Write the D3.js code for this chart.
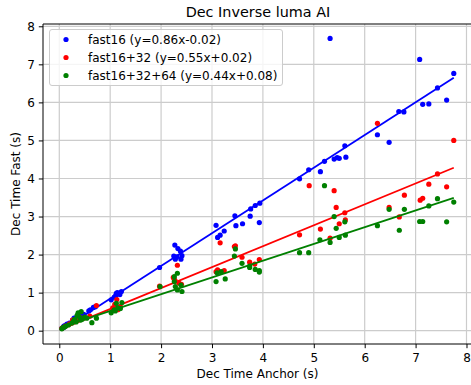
<!DOCTYPE html>
<html>
<head>
<meta charset="utf-8">
<script src="https://cdn.jsdelivr.net/npm/d3@7"></script>
<style>
  html, body { margin: 0; padding: 0; background: #fff; }
  svg { display: block; font-family: "DejaVu Sans", sans-serif; }
</style>
</head>
<body>
<svg id="chart" width="471" height="385"></svg>
<script>
// ---------------- data ----------------
const title = "Dec Inverse luma AI";
const xLabel = "Dec Time Anchor (s)";
const yLabel = "Dec Time Fast (s)";
const xTicks = [0, 1, 2, 3, 4, 5, 6, 7, 8];
const yTicks = [0, 1, 2, 3, 4, 5, 6, 7, 8];

const seriesNames = ["fast16 (y=0.86x-0.02)", "fast16+32 (y=0.55x+0.02)", "fast16+32+64 (y=0.44x+0.08)"];
const seriesColors = ["#0000ff", "#ff0000", "#008000"];
const fitSlopes = [0.86, 0.55, 0.44];
const fitIntercepts = [-0.02, 0.02, 0.08];

const fast16X = [0.05,0.07,0.09,0.10,0.12,0.15,0.20,0.26,0.29,0.33,0.38,0.42,0.45,0.48,0.58,0.61,0.67,0.71,
  1.02,1.08,1.11,1.12,1.14,1.17,1.22,1.19,
  1.97,2.27,2.33,2.25,2.31,2.38,2.41,2.39,2.28,
  3.08,3.11,3.16,3.24,3.45,3.47,3.60,3.75,3.76,3.85,3.94,3.93,
  4.72,4.90,5.13,5.21,5.32,5.40,5.46,5.50,5.63,5.61,6.25,6.48,6.67,6.77,7.08,7.14,7.26,7.43,7.61,7.75];
const fast16Y = [0.06,0.08,0.12,0.10,0.14,0.17,0.20,0.28,0.33,0.34,0.36,0.40,0.43,0.43,0.52,0.55,0.61,0.63,
  0.81,0.88,0.92,0.98,1.00,0.98,1.03,0.95,
  1.66,2.25,2.16,1.96,1.94,2.09,1.97,1.88,1.88,
  2.77,2.45,2.51,2.62,3.02,2.76,2.81,3.01,3.20,3.29,3.35,2.84,
  3.99,4.23,4.18,4.45,7.68,4.51,4.55,4.53,4.56,4.86,5.15,4.95,5.76,5.75,7.13,5.95,5.96,6.38,6.06,6.76];

const fast1632X = [0.05,0.08,0.12,0.20,0.26,0.30,0.35,0.40,0.45,0.60,0.73,
  1.05,1.09,1.13,1.15,1.20,
  1.97,2.24,2.26,2.28,2.32,2.35,2.40,
  3.08,3.11,3.16,3.24,3.44,3.46,3.59,3.74,3.84,3.93,
  4.72,4.91,5.13,5.32,5.40,5.44,5.50,5.61,5.62,6.25,6.48,6.68,6.78,7.09,7.14,7.26,7.43,7.61,7.75];
const fast1632Y = [0.06,0.09,0.12,0.18,0.28,0.25,0.30,0.35,0.32,0.38,0.66,
  0.60,0.69,0.82,0.55,0.63,
  1.17,1.40,1.35,1.30,1.72,1.25,1.22,
  1.55,1.60,2.31,1.58,2.21,2.23,1.93,1.80,1.75,1.87,
  2.52,3.81,2.67,2.43,3.68,3.24,2.81,3.10,2.91,5.45,3.24,2.99,3.56,3.43,3.48,3.85,4.12,3.78,5.00];

const fast163264X = [0.05,0.07,0.10,0.13,0.18,0.25,0.28,0.30,0.33,0.35,0.37,0.40,0.42,0.43,0.45,0.50,0.54,0.64,0.73,
  1.02,1.08,1.10,1.12,1.15,1.20,1.23,
  1.98,2.26,2.26,2.28,2.32,2.32,2.39,2.41,
  3.08,3.10,3.18,3.26,3.44,3.46,3.59,3.74,3.74,3.85,3.93,3.93,
  4.72,4.90,5.12,5.21,5.32,5.40,5.44,5.50,5.61,5.62,6.25,6.48,6.68,6.78,7.08,7.14,7.26,7.43,7.61,7.75];
const fast163264Y = [0.05,0.08,0.10,0.12,0.15,0.20,0.25,0.30,0.23,0.40,0.47,0.35,0.28,0.50,0.30,0.36,0.33,0.21,0.33,
  0.47,0.55,0.52,0.72,0.60,0.58,0.74,
  1.16,1.42,1.29,1.16,1.51,1.07,1.20,1.03,
  1.29,1.52,1.55,1.36,1.96,2.15,1.77,1.70,1.66,1.61,1.58,1.54,
  2.05,2.05,2.39,3.81,2.32,3.00,2.69,2.45,2.86,2.51,2.76,3.19,2.64,3.19,2.87,2.87,3.28,3.47,2.86,3.38];

const seriesX = [fast16X, fast1632X, fast163264X];
const seriesY = [fast16Y, fast1632Y, fast163264Y];

// ---------------- layout ----------------
const svg = d3.select("#chart");
const plot = { left: 43, right: 472.6, top: 24, bottom: 344 };

const x = d3.scaleLinear().domain([-0.32, 8.12]).range([plot.left, plot.right]);
const y = d3.scaleLinear().domain([-0.35, 8.06]).range([plot.bottom, plot.top]);

svg.append("rect").attr("width", 471).attr("height", 385).attr("fill", "#fff");

// grid
const grid = svg.append("g");
grid.selectAll("line.gx").data(xTicks).enter().append("line")
  .attr("x1", d => x(d)).attr("x2", d => x(d))
  .attr("y1", plot.top).attr("y2", plot.bottom)
  .attr("stroke", "#cccccc").attr("stroke-width", 1.2);
grid.selectAll("line.gy").data(yTicks).enter().append("line")
  .attr("x1", plot.left).attr("x2", plot.right)
  .attr("y1", d => y(d)).attr("y2", d => y(d))
  .attr("stroke", "#cccccc").attr("stroke-width", 1.2);

// axes
const xAxis = d3.axisBottom(x).tickValues(xTicks).tickSize(4.2).tickPadding(5.3).tickFormat(d3.format("d"));
const yAxis = d3.axisLeft(y).tickValues(yTicks).tickSize(4.2).tickPadding(3.8).tickFormat(d3.format("d"));

const gx = svg.append("g").attr("transform", `translate(0,${plot.bottom})`).call(xAxis);
const gy = svg.append("g").attr("transform", `translate(${plot.left},0)`).call(yAxis);
[gx, gy].forEach(g => {
  g.select(".domain").remove();
  g.selectAll("text").attr("font-size", "12px").attr("fill", "#000").attr("font-family", "DejaVu Sans");
  g.selectAll("line").attr("stroke", "#000").attr("stroke-width", 1);
});

// data marks
svg.append("defs").append("clipPath").attr("id", "clip")
  .append("rect").attr("x", plot.left).attr("y", plot.top)
  .attr("width", plot.right - plot.left).attr("height", plot.bottom - plot.top);

const marks = svg.append("g").attr("clip-path", "url(#clip)");
seriesX.forEach((xs, i) => {
  const pts = xs.map((v, j) => [v, seriesY[i][j]]);
  marks.append("g").selectAll("circle").data(pts).enter().append("circle")
    .attr("cx", d => x(d[0])).attr("cy", d => y(d[1])).attr("r", 2.6)
    .attr("fill", seriesColors[i]);
  const xmin = d3.min(xs), xmax = d3.max(xs);
  const line = d3.line().x(d => x(d)).y(d => y(fitSlopes[i] * d + fitIntercepts[i]));
  marks.append("path").datum([xmin, xmax]).attr("d", line)
    .attr("fill", "none").attr("stroke", seriesColors[i]).attr("stroke-width", 1.8);
});

// spines
const spine = (x1, y1, x2, y2) => svg.append("line").attr("x1", x1).attr("y1", y1).attr("x2", x2).attr("y2", y2)
  .attr("stroke", "#000").attr("stroke-width", 1);
spine(plot.left, plot.top, plot.left, plot.bottom);
spine(plot.left, plot.bottom, plot.right, plot.bottom);
spine(plot.left, plot.top, plot.right, plot.top);
spine(plot.right, plot.top, plot.right, plot.bottom);

// title & labels
svg.append("text").attr("x", 258).attr("y", 17).attr("text-anchor", "middle")
  .attr("font-size", "14.4px").text(title);
svg.append("text").attr("x", 257.5).attr("y", 378).attr("text-anchor", "middle")
  .attr("font-size", "12px").text(xLabel);
svg.append("text").attr("transform", `translate(20,${(plot.top + plot.bottom) / 2}) rotate(-90)`)
  .attr("text-anchor", "middle").attr("font-size", "12px").text(yLabel);

// legend
const lg = svg.append("g");
lg.append("rect").attr("x", 49.5).attr("y", 29.5).attr("width", 233).attr("height", 56).attr("rx", 2.5)
  .attr("fill", "#fff").attr("fill-opacity", 0.8).attr("stroke", "#cccccc").attr("stroke-width", 1);
seriesNames.forEach((name, i) => {
  const cy = 39.5 + i * 18;
  lg.append("circle").attr("cx", 66).attr("cy", cy).attr("r", 2.6).attr("fill", seriesColors[i]);
  lg.append("text").attr("x", 88).attr("y", cy + 4.3).attr("font-size", "12px").text(name);
});
</script>
</body>
</html>
